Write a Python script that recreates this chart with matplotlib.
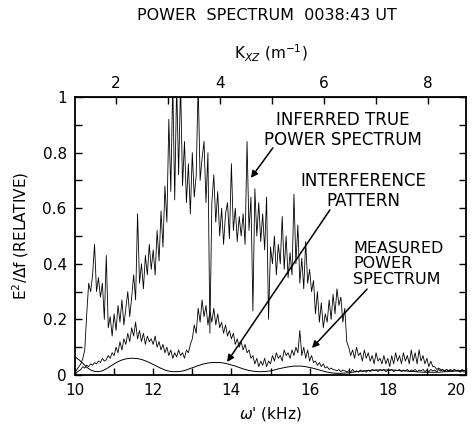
import matplotlib
matplotlib.use("Agg")
import matplotlib.pyplot as plt
import numpy as np
from matplotlib.ticker import MultipleLocator, FixedLocator, FixedFormatter

inferred_true = [
    0.01, 0.02, 0.03, 0.04, 0.06, 0.09, 0.22, 0.33, 0.30, 0.36,
    0.47, 0.30, 0.35, 0.28, 0.33, 0.20, 0.43, 0.17, 0.21, 0.14,
    0.22, 0.16, 0.25, 0.19, 0.27, 0.18, 0.24, 0.30, 0.21, 0.28,
    0.36, 0.27, 0.58, 0.33, 0.40, 0.31, 0.43, 0.36, 0.47, 0.38,
    0.45, 0.36, 0.52, 0.41, 0.59, 0.46, 0.68, 0.55, 0.92, 0.66,
    1.05, 0.63, 1.05, 0.72, 1.05, 0.68, 0.84, 0.62, 0.76, 0.58,
    0.80, 0.64, 0.72, 1.05, 0.70, 0.78, 0.84, 0.62, 0.80, 0.15,
    0.62, 0.72, 0.55, 0.66, 0.50, 0.60, 0.47, 0.58, 0.62, 0.49,
    0.76, 0.52, 0.60, 0.48, 0.57, 0.50, 0.58, 0.47, 0.84, 0.52,
    0.64, 0.23, 0.67, 0.50, 0.62, 0.48, 0.58, 0.45, 0.64, 0.20,
    0.46, 0.40, 0.50, 0.36, 0.47, 0.40, 0.57, 0.38, 0.50, 0.35,
    0.44, 0.36, 0.65, 0.40, 0.54, 0.33, 0.42, 0.31, 0.48, 0.33,
    0.38, 0.30, 0.34, 0.22, 0.30, 0.19, 0.26, 0.17, 0.22, 0.19,
    0.27, 0.20, 0.29, 0.22, 0.31, 0.25, 0.28, 0.19, 0.24, 0.12,
    0.10, 0.07, 0.09, 0.06, 0.10, 0.07, 0.08, 0.05, 0.09, 0.06,
    0.08, 0.05, 0.07, 0.04, 0.08, 0.05, 0.06, 0.04, 0.07, 0.04,
    0.06, 0.03, 0.07, 0.04, 0.08, 0.05, 0.07, 0.04, 0.08, 0.05,
    0.07, 0.04, 0.09, 0.05, 0.08, 0.04, 0.09, 0.05, 0.07, 0.04,
    0.06, 0.03, 0.05, 0.03, 0.03, 0.02, 0.025, 0.02, 0.02, 0.015,
    0.02, 0.015, 0.02, 0.015, 0.02, 0.015, 0.015, 0.01, 0.015, 0.01, 0.015,
]

measured = [
    0.00, 0.01, 0.015, 0.02, 0.03, 0.025, 0.035, 0.03, 0.04, 0.035,
    0.045, 0.04, 0.05, 0.045, 0.06, 0.05, 0.055, 0.07, 0.06, 0.08,
    0.07, 0.10, 0.08, 0.12, 0.09, 0.13, 0.11, 0.15, 0.12, 0.17,
    0.14, 0.19, 0.13, 0.16, 0.12, 0.15, 0.11, 0.14, 0.12, 0.13,
    0.11, 0.14, 0.10, 0.12, 0.09, 0.11, 0.08, 0.10, 0.07, 0.09,
    0.06, 0.08, 0.065, 0.09, 0.07, 0.08, 0.06, 0.09, 0.08, 0.11,
    0.13, 0.18, 0.15, 0.24, 0.19, 0.27, 0.21, 0.25, 0.18, 0.23,
    0.19, 0.24, 0.18, 0.22, 0.17, 0.19, 0.15, 0.18, 0.14, 0.16,
    0.13, 0.15, 0.11, 0.13, 0.10, 0.12, 0.09, 0.11, 0.08, 0.09,
    0.06, 0.07, 0.04, 0.06, 0.03, 0.05, 0.035, 0.06, 0.03, 0.05,
    0.04, 0.07, 0.05, 0.08, 0.06, 0.07, 0.05, 0.09, 0.07, 0.08,
    0.06, 0.09, 0.07, 0.10, 0.08, 0.16, 0.07, 0.10, 0.06, 0.09,
    0.05, 0.07, 0.045, 0.05, 0.035, 0.045, 0.03, 0.04, 0.025, 0.03,
    0.02, 0.025, 0.02, 0.018, 0.015, 0.02, 0.012, 0.018, 0.015, 0.012,
    0.015, 0.01, 0.02, 0.012, 0.015, 0.01, 0.018, 0.012, 0.015, 0.01,
    0.018, 0.012, 0.02, 0.015, 0.018, 0.012, 0.02, 0.015, 0.02, 0.012,
    0.018, 0.015, 0.02, 0.012, 0.018, 0.015, 0.02, 0.012, 0.018, 0.015,
    0.02, 0.012, 0.018, 0.015, 0.02, 0.012, 0.018, 0.015, 0.02, 0.012,
    0.018, 0.012, 0.02, 0.015, 0.018, 0.012, 0.02, 0.015, 0.018, 0.012,
    0.02, 0.015, 0.018, 0.012, 0.02, 0.015, 0.018, 0.012, 0.02, 0.015, 0.018,
]

# smooth interference pattern, sampled every 0.1 kHz
interference = [
    0.065, 0.055, 0.042, 0.028, 0.018, 0.013, 0.012, 0.015, 0.022, 0.031,
    0.040, 0.048, 0.054, 0.058, 0.060, 0.060, 0.059, 0.056, 0.051, 0.045,
    0.038, 0.031, 0.024, 0.018, 0.014, 0.012, 0.012, 0.013, 0.016, 0.021,
    0.026, 0.031, 0.036, 0.040, 0.043, 0.045, 0.045, 0.045, 0.043, 0.040,
    0.036, 0.032, 0.027, 0.022, 0.018, 0.015, 0.013, 0.012, 0.012, 0.013,
    0.015, 0.018, 0.022, 0.025, 0.028, 0.030, 0.032, 0.032, 0.032, 0.030,
    0.027, 0.024, 0.020, 0.016, 0.012, 0.009, 0.007, 0.006, 0.006, 0.007,
    0.008, 0.010, 0.012, 0.014, 0.015, 0.016, 0.017, 0.018, 0.018, 0.018,
    0.018, 0.018, 0.017, 0.016, 0.015, 0.014, 0.013, 0.012, 0.011, 0.010,
    0.010, 0.010, 0.010, 0.010, 0.011, 0.012, 0.013, 0.014, 0.015, 0.016, 0.016,
]

x_ticks = [10, 12, 14, 16, 18, 20]
x_tick_labels = ["10", "12", "14", "16", "18", "20"]
y_ticks = [0, 0.2, 0.4, 0.6, 0.8, 1.0]
y_tick_labels = ["0", "0.2", "0.4", "0.6", "0.8", "1"]
k_ticks = [2, 4, 6, 8]

# omega' -> K_xz conversion of the top axis
K_AT_10KHZ = 1.211
K_PER_KHZ = 0.752


def w2k(w):
    return K_AT_10KHZ + (np.asarray(w) - 10) * K_PER_KHZ


def k2w(k):
    return 10 + (np.asarray(k) - K_AT_10KHZ) / K_PER_KHZ


plt.rcParams["font.family"] = "DejaVu Sans"
plt.rcParams["mathtext.fontset"] = "dejavusans"

fig = plt.figure(figsize=(4.75, 4.28), dpi=100)
ax = fig.add_axes([75 / 475, 53 / 428, 391 / 475, 278 / 428])

freq_fine = np.linspace(10, 20, len(inferred_true))
freq_coarse = np.linspace(10, 20, len(interference))

ax.plot(freq_fine, inferred_true, color="black", linewidth=0.6)
ax.plot(freq_fine, measured, color="black", linewidth=0.6)
ax.plot(freq_coarse, interference, color="black", linewidth=0.7)

ax.set_xlim(10, 20)
ax.set_ylim(0, 1)
ax.set_xticks(x_ticks, x_tick_labels)
ax.get_xticklabels()[-1].set_horizontalalignment("right")
ax.xaxis.set_minor_locator(MultipleLocator(1))
ax.yaxis.set_major_locator(FixedLocator(y_ticks))
ax.yaxis.set_major_formatter(FixedFormatter(y_tick_labels))
ax.yaxis.set_minor_locator(MultipleLocator(0.1))
ax.tick_params(which="both", direction="in", length=5, width=1.0, labelsize=11, pad=6)
ax.tick_params(axis="y", which="both", right=True)
for sp in ax.spines.values():
    sp.set_linewidth(1.3)

ax.set_xlabel(r"$\omega$' (kHz)", fontsize=11, labelpad=5)
ax.set_ylabel(r"E$^2$/$\Delta$f (RELATIVE)", fontsize=11, labelpad=8)

top = ax.secondary_xaxis("top", functions=(w2k, k2w))
top.xaxis.set_major_locator(FixedLocator(k_ticks))
top.xaxis.set_minor_locator(MultipleLocator(1))
top.tick_params(which="both", direction="in", length=5, width=1.0, labelsize=11, pad=4)
top.set_xlabel(r"K$_{XZ}$ (m$^{-1}$)", fontsize=11, labelpad=12)

fig.text(267 / 475, 1 - 16 / 428, "POWER  SPECTRUM  0038:43 UT", ha="center", va="center", fontsize=11.5)

arrow = dict(arrowstyle="-|>", color="black", lw=1.1, mutation_scale=10, shrinkA=0, shrinkB=0)

ax.text(16.85, 0.881, "INFERRED TRUE\nPOWER SPECTRUM", ha="center", va="center", fontsize=12, linespacing=1.1)
ax.annotate("", xy=(14.50, 0.709), xytext=(15.06, 0.817), arrowprops=arrow)

ax.text(17.37, 0.662, "INTERFERENCE\nPATTERN", ha="center", va="center", fontsize=12, linespacing=1.1)
ax.annotate("", xy=(13.89, 0.047), xytext=(16.52, 0.594), arrowprops=arrow)

ax.text(17.11, 0.40, "MEASURED\nPOWER\nSPECTRUM", ha="left", va="center", fontsize=11.5, linespacing=1.05)
ax.annotate("", xy=(16.06, 0.097), xytext=(17.47, 0.309), arrowprops=arrow)

fig.savefig("out.png", dpi=100)
